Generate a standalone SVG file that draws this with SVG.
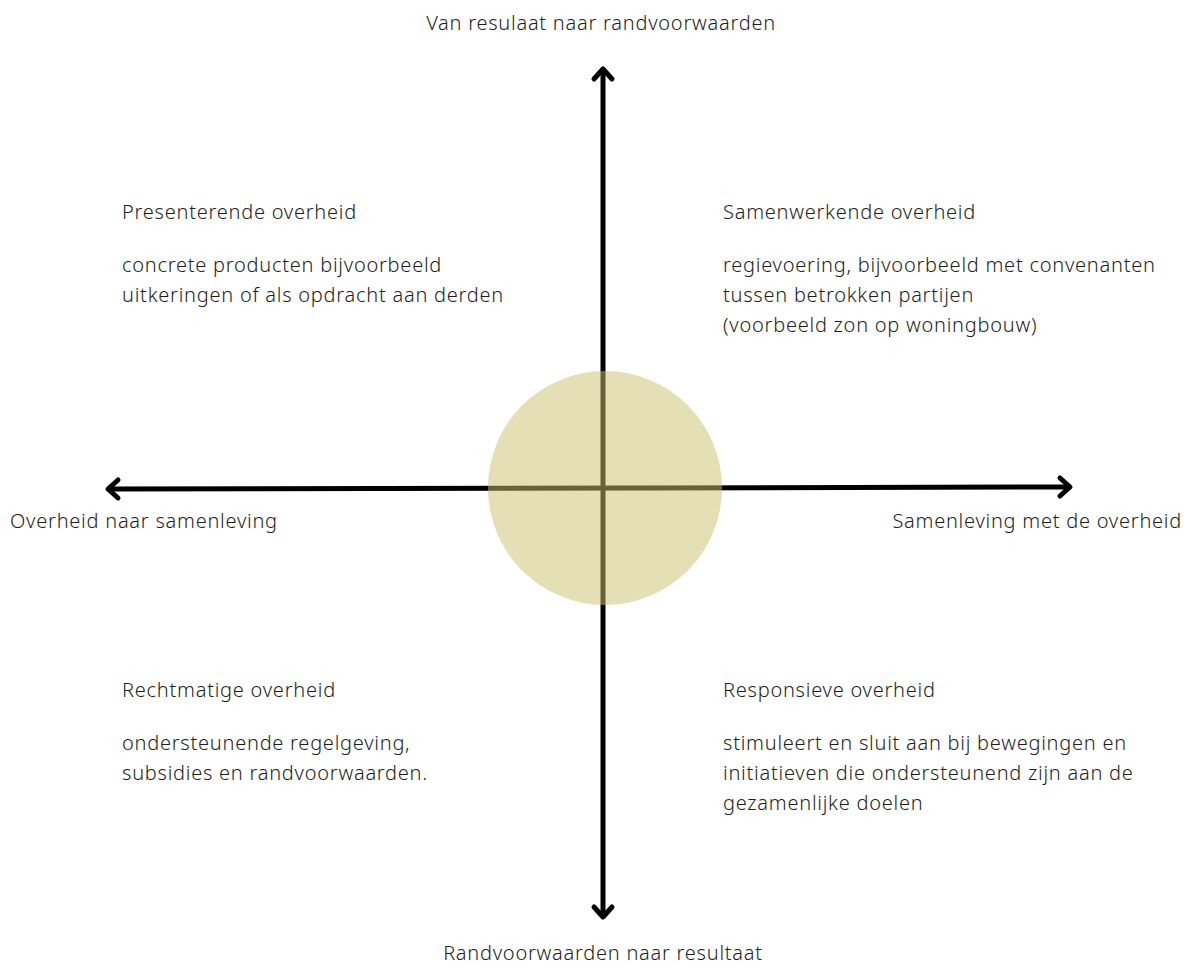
<svg xmlns="http://www.w3.org/2000/svg" width="1187" height="968" viewBox="0 0 1187 968">
<style>
text{font-family:"Noto Sans","Open Sans",sans-serif;font-size:20px;font-weight:300;letter-spacing:0.75px;fill:#1e1e1e;}
.axis{stroke:#000;stroke-width:5;fill:none;stroke-linecap:round;stroke-linejoin:round;}
</style>
<rect width="1187" height="968" fill="#fff"/>
<g id="connectors">
<path class="axis" d="M603 70 V916"/>
<path class="axis" d="M109 489 L1069 487"/>
<path class="axis" d="M594 79 L603 69 L612 79"/>
<path class="axis" d="M594 907 L603 917 L612 907"/>
<path class="axis" d="M118 480 L108 489 L118 498"/>
<path class="axis" d="M1060 478 L1070 487 L1060 496"/>
</g>
<g id="center"><circle cx="605" cy="488" r="117" fill="rgb(202,192,110)" fill-opacity="0.51"/></g>
<g id="top-label"><text x="601" y="30" text-anchor="middle">Van resulaat naar randvoorwaarden</text></g>
<g id="bottom-label"><text x="603" y="960" text-anchor="middle">Randvoorwaarden naar resultaat</text></g>
<g id="left-label"><text x="10" y="528">Overheid naar samenleving</text></g>
<g id="right-label"><text x="1182" y="528" text-anchor="end">Samenleving met de overheid</text></g>
<g id="q-top-left"><text x="122" y="219">Presenterende overheid</text><text x="122" y="272">concrete producten bijvoorbeeld</text><text x="122" y="302">uitkeringen of als opdracht aan derden</text></g>
<g id="q-top-right"><text x="723" y="219">Samenwerkende overheid</text><text x="723" y="272">regievoering, bijvoorbeeld met convenanten</text><text x="723" y="302">tussen betrokken partijen</text><text x="723" y="332">(voorbeeld zon op woningbouw)</text></g>
<g id="q-bottom-left"><text x="122" y="697">Rechtmatige overheid</text><text x="122" y="750">ondersteunende regelgeving,</text><text x="122" y="780">subsidies en randvoorwaarden.</text></g>
<g id="q-bottom-right"><text x="723" y="697">Responsieve overheid</text><text x="723" y="750">stimuleert en sluit aan bij bewegingen en</text><text x="723" y="780">initiatieven die ondersteunend zijn aan de</text><text x="723" y="810">gezamenlijke doelen</text></g>
</svg>
